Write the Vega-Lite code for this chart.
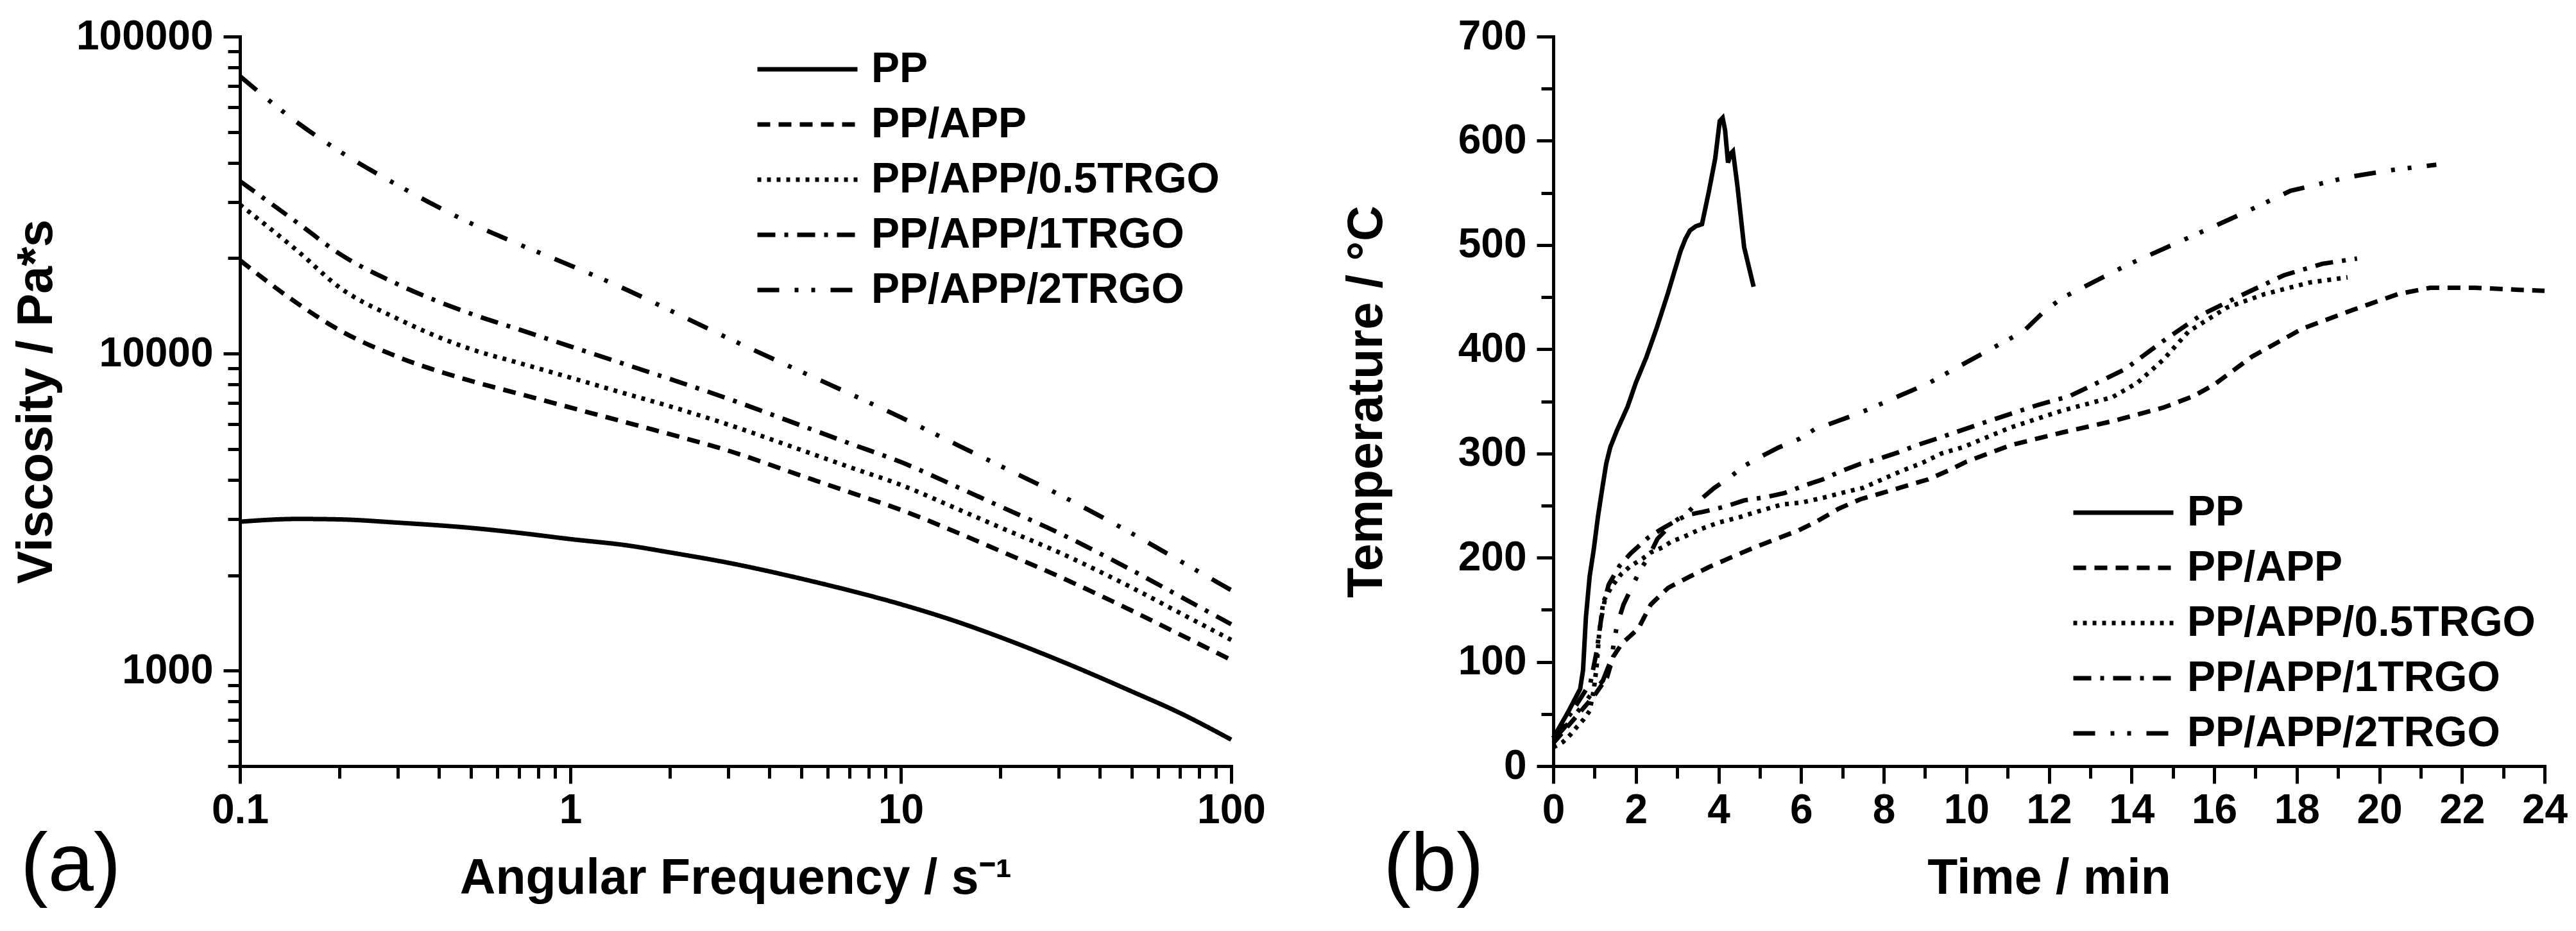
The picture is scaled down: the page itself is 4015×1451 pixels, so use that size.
{
  "$schema": "https://vega.github.io/schema/vega-lite/v6.json",
  "background": "white",
  "padding": {"left": 18, "top": 25, "right": 5, "bottom": 5},
  "config": {
    "font": "Liberation Sans",
    "view": {"stroke": null},
    "axis": {
      "domainColor": "black", "domainWidth": 5, "domainCap": "square",
      "tickColor": "black", "tickWidth": 5, "tickCap": "butt",
      "labelFont": "Liberation Sans", "labelFontSize": 64, "labelFontWeight": "bold", "labelColor": "black", "labelLimit": 1000,
      "titleFont": "Liberation Sans", "titleFontSize": 77, "titleFontWeight": "bold", "titleColor": "black", "titleLimit": 3000,
      "grid": false, "labelOverlap": false, "labelFlush": false, "labelBound": false
    },
    "legend": {
      "orient": "none", "title": null, "padding": 0,
      "labelFont": "Liberation Sans", "labelFontSize": 66, "labelFontWeight": "bold", "labelColor": "black", "labelLimit": 2000,
      "symbolType": "stroke", "symbolSize": 24336, "symbolStrokeWidth": 7, "symbolStrokeColor": "black",
      "clipHeight": 64, "rowPadding": 20, "labelOffset": 18, "symbolOffset": 0
    }
  },
  "datasets": {
    "visc": [
      {"f":0.1,"v":2950,"s":"PP"},{"f":0.15,"v":3010,"s":"PP"},{"f":0.2,"v":3000,"s":"PP"},{"f":0.3,"v":2930,"s":"PP"},{"f":0.5,"v":2820,"s":"PP"},{"f":0.7,"v":2720,"s":"PP"},{"f":1,"v":2600,"s":"PP"},{"f":1.5,"v":2480,"s":"PP"},{"f":2,"v":2360,"s":"PP"},{"f":3,"v":2190,"s":"PP"},{"f":5,"v":1950,"s":"PP"},{"f":7,"v":1790,"s":"PP"},{"f":10,"v":1620,"s":"PP"},{"f":15,"v":1420,"s":"PP"},{"f":20,"v":1275,"s":"PP"},{"f":30,"v":1080,"s":"PP"},{"f":50,"v":860,"s":"PP"},{"f":70,"v":735,"s":"PP"},{"f":100,"v":606,"s":"PP"},
      {"f":0.1,"v":19700,"s":"PP/APP"},{"f":0.15,"v":14350,"s":"PP/APP"},{"f":0.2,"v":11860,"s":"PP/APP"},{"f":0.3,"v":9770,"s":"PP/APP"},{"f":0.5,"v":8200,"s":"PP/APP"},{"f":0.7,"v":7470,"s":"PP/APP"},{"f":1,"v":6760,"s":"PP/APP"},{"f":1.5,"v":6040,"s":"PP/APP"},{"f":2,"v":5570,"s":"PP/APP"},{"f":3,"v":4945,"s":"PP/APP"},{"f":5,"v":4120,"s":"PP/APP"},{"f":7,"v":3655,"s":"PP/APP"},{"f":10,"v":3215,"s":"PP/APP"},{"f":15,"v":2712,"s":"PP/APP"},{"f":20,"v":2385,"s":"PP/APP"},{"f":30,"v":1986,"s":"PP/APP"},{"f":50,"v":1546,"s":"PP/APP"},{"f":70,"v":1300,"s":"PP/APP"},{"f":100,"v":1081,"s":"PP/APP"},
      {"f":0.1,"v":29500,"s":"PP/APP/0.5TRGO"},{"f":0.15,"v":21000,"s":"PP/APP/0.5TRGO"},{"f":0.2,"v":16180,"s":"PP/APP/0.5TRGO"},{"f":0.3,"v":12880,"s":"PP/APP/0.5TRGO"},{"f":0.5,"v":10330,"s":"PP/APP/0.5TRGO"},{"f":0.7,"v":9340,"s":"PP/APP/0.5TRGO"},{"f":1,"v":8400,"s":"PP/APP/0.5TRGO"},{"f":1.5,"v":7430,"s":"PP/APP/0.5TRGO"},{"f":2,"v":6820,"s":"PP/APP/0.5TRGO"},{"f":3,"v":5975,"s":"PP/APP/0.5TRGO"},{"f":5,"v":4965,"s":"PP/APP/0.5TRGO"},{"f":7,"v":4385,"s":"PP/APP/0.5TRGO"},{"f":10,"v":3855,"s":"PP/APP/0.5TRGO"},{"f":15,"v":3220,"s":"PP/APP/0.5TRGO"},{"f":20,"v":2830,"s":"PP/APP/0.5TRGO"},{"f":30,"v":2365,"s":"PP/APP/0.5TRGO"},{"f":50,"v":1828,"s":"PP/APP/0.5TRGO"},{"f":70,"v":1520,"s":"PP/APP/0.5TRGO"},{"f":100,"v":1250,"s":"PP/APP/0.5TRGO"},
      {"f":0.1,"v":35000,"s":"PP/APP/1TRGO"},{"f":0.15,"v":25770,"s":"PP/APP/1TRGO"},{"f":0.2,"v":20660,"s":"PP/APP/1TRGO"},{"f":0.3,"v":16560,"s":"PP/APP/1TRGO"},{"f":0.5,"v":13360,"s":"PP/APP/1TRGO"},{"f":0.7,"v":11910,"s":"PP/APP/1TRGO"},{"f":1,"v":10540,"s":"PP/APP/1TRGO"},{"f":1.5,"v":9180,"s":"PP/APP/1TRGO"},{"f":2,"v":8320,"s":"PP/APP/1TRGO"},{"f":3,"v":7210,"s":"PP/APP/1TRGO"},{"f":5,"v":5930,"s":"PP/APP/1TRGO"},{"f":7,"v":5210,"s":"PP/APP/1TRGO"},{"f":10,"v":4550,"s":"PP/APP/1TRGO"},{"f":15,"v":3775,"s":"PP/APP/1TRGO"},{"f":20,"v":3296,"s":"PP/APP/1TRGO"},{"f":30,"v":2723,"s":"PP/APP/1TRGO"},{"f":50,"v":2075,"s":"PP/APP/1TRGO"},{"f":70,"v":1715,"s":"PP/APP/1TRGO"},{"f":100,"v":1400,"s":"PP/APP/1TRGO"},
      {"f":0.1,"v":75000,"s":"PP/APP/2TRGO"},{"f":0.15,"v":53350,"s":"PP/APP/2TRGO"},{"f":0.2,"v":43500,"s":"PP/APP/2TRGO"},{"f":0.3,"v":33980,"s":"PP/APP/2TRGO"},{"f":0.5,"v":25760,"s":"PP/APP/2TRGO"},{"f":0.7,"v":22100,"s":"PP/APP/2TRGO"},{"f":1,"v":18970,"s":"PP/APP/2TRGO"},{"f":1.5,"v":15800,"s":"PP/APP/2TRGO"},{"f":2,"v":13700,"s":"PP/APP/2TRGO"},{"f":3,"v":11190,"s":"PP/APP/2TRGO"},{"f":5,"v":8770,"s":"PP/APP/2TRGO"},{"f":7,"v":7480,"s":"PP/APP/2TRGO"},{"f":10,"v":6295,"s":"PP/APP/2TRGO"},{"f":15,"v":5120,"s":"PP/APP/2TRGO"},{"f":20,"v":4425,"s":"PP/APP/2TRGO"},{"f":30,"v":3600,"s":"PP/APP/2TRGO"},{"f":50,"v":2710,"s":"PP/APP/2TRGO"},{"f":70,"v":2218,"s":"PP/APP/2TRGO"},{"f":100,"v":1794,"s":"PP/APP/2TRGO"}
    ],
    "temp": [
      {"t":0,"T":27,"s":"PP"},{"t":0.36,"T":52,"s":"PP"},{"t":0.65,"T":74,"s":"PP"},{"t":0.72,"T":92,"s":"PP"},{"t":0.79,"T":143,"s":"PP"},{"t":0.88,"T":182,"s":"PP"},{"t":0.98,"T":208,"s":"PP"},{"t":1.08,"T":239,"s":"PP"},{"t":1.18,"T":265,"s":"PP"},{"t":1.28,"T":290,"s":"PP"},{"t":1.38,"T":306,"s":"PP"},{"t":1.54,"T":322,"s":"PP"},{"t":1.8,"T":345,"s":"PP"},{"t":2.0,"T":368,"s":"PP"},{"t":2.25,"T":392,"s":"PP"},{"t":2.5,"T":420,"s":"PP"},{"t":2.77,"T":453,"s":"PP"},{"t":3.08,"T":494,"s":"PP"},{"t":3.2,"T":506,"s":"PP"},{"t":3.31,"T":514,"s":"PP"},{"t":3.45,"T":518,"s":"PP"},{"t":3.6,"T":520,"s":"PP"},{"t":3.77,"T":552,"s":"PP"},{"t":3.92,"T":583,"s":"PP"},{"t":4.03,"T":619,"s":"PP"},{"t":4.1,"T":622,"s":"PP"},{"t":4.16,"T":610,"s":"PP"},{"t":4.23,"T":579,"s":"PP"},{"t":4.3,"T":588,"s":"PP"},{"t":4.35,"T":590,"s":"PP"},{"t":4.46,"T":556,"s":"PP"},{"t":4.62,"T":498,"s":"PP"},{"t":4.85,"T":460,"s":"PP"},
      {"t":0,"T":22,"s":"PP/APP"},{"t":0.5,"T":45,"s":"PP/APP"},{"t":1.0,"T":68,"s":"PP/APP"},{"t":1.3,"T":85,"s":"PP/APP"},{"t":1.45,"T":105,"s":"PP/APP"},{"t":1.67,"T":118,"s":"PP/APP"},{"t":2.06,"T":132,"s":"PP/APP"},{"t":2.36,"T":155,"s":"PP/APP"},{"t":2.78,"T":171,"s":"PP/APP"},{"t":3.31,"T":182,"s":"PP/APP"},{"t":3.77,"T":191,"s":"PP/APP"},{"t":4.29,"T":200,"s":"PP/APP"},{"t":4.88,"T":210,"s":"PP/APP"},{"t":5.4,"T":218,"s":"PP/APP"},{"t":5.93,"T":226,"s":"PP/APP"},{"t":6.39,"T":235,"s":"PP/APP"},{"t":6.91,"T":247,"s":"PP/APP"},{"t":7.43,"T":256,"s":"PP/APP"},{"t":7.96,"T":262,"s":"PP/APP"},{"t":8.55,"T":269,"s":"PP/APP"},{"t":9.07,"T":275,"s":"PP/APP"},{"t":9.59,"T":284,"s":"PP/APP"},{"t":10.0,"T":292,"s":"PP/APP"},{"t":11.08,"T":308,"s":"PP/APP"},{"t":12.31,"T":320,"s":"PP/APP"},{"t":13.54,"T":331,"s":"PP/APP"},{"t":14.77,"T":344,"s":"PP/APP"},{"t":15.5,"T":355,"s":"PP/APP"},{"t":16.0,"T":366,"s":"PP/APP"},{"t":16.92,"T":393,"s":"PP/APP"},{"t":18.15,"T":420,"s":"PP/APP"},{"t":19.38,"T":438,"s":"PP/APP"},{"t":20.46,"T":453,"s":"PP/APP"},{"t":21.23,"T":459,"s":"PP/APP"},{"t":22.31,"T":459,"s":"PP/APP"},{"t":23.38,"T":457,"s":"PP/APP"},{"t":24,"T":456,"s":"PP/APP"},
      {"t":0,"T":18,"s":"PP/APP/0.5TRGO"},{"t":0.23,"T":23,"s":"PP/APP/0.5TRGO"},{"t":0.41,"T":30,"s":"PP/APP/0.5TRGO"},{"t":0.58,"T":38,"s":"PP/APP/0.5TRGO"},{"t":0.74,"T":45,"s":"PP/APP/0.5TRGO"},{"t":0.88,"T":53,"s":"PP/APP/0.5TRGO"},{"t":0.98,"T":73,"s":"PP/APP/0.5TRGO"},{"t":1.05,"T":96,"s":"PP/APP/0.5TRGO"},{"t":1.11,"T":127,"s":"PP/APP/0.5TRGO"},{"t":1.21,"T":158,"s":"PP/APP/0.5TRGO"},{"t":1.41,"T":172,"s":"PP/APP/0.5TRGO"},{"t":1.64,"T":184,"s":"PP/APP/0.5TRGO"},{"t":1.87,"T":192,"s":"PP/APP/0.5TRGO"},{"t":2.16,"T":199,"s":"PP/APP/0.5TRGO"},{"t":2.36,"T":205,"s":"PP/APP/0.5TRGO"},{"t":2.65,"T":210,"s":"PP/APP/0.5TRGO"},{"t":2.88,"T":216,"s":"PP/APP/0.5TRGO"},{"t":3.11,"T":219,"s":"PP/APP/0.5TRGO"},{"t":3.54,"T":227,"s":"PP/APP/0.5TRGO"},{"t":4.03,"T":234,"s":"PP/APP/0.5TRGO"},{"t":4.52,"T":239,"s":"PP/APP/0.5TRGO"},{"t":5.01,"T":245,"s":"PP/APP/0.5TRGO"},{"t":5.53,"T":251,"s":"PP/APP/0.5TRGO"},{"t":6.03,"T":253,"s":"PP/APP/0.5TRGO"},{"t":6.48,"T":257,"s":"PP/APP/0.5TRGO"},{"t":6.97,"T":262,"s":"PP/APP/0.5TRGO"},{"t":7.5,"T":267,"s":"PP/APP/0.5TRGO"},{"t":7.96,"T":275,"s":"PP/APP/0.5TRGO"},{"t":8.42,"T":283,"s":"PP/APP/0.5TRGO"},{"t":8.94,"T":291,"s":"PP/APP/0.5TRGO"},{"t":9.4,"T":300,"s":"PP/APP/0.5TRGO"},{"t":9.92,"T":306,"s":"PP/APP/0.5TRGO"},{"t":11.08,"T":325,"s":"PP/APP/0.5TRGO"},{"t":12.31,"T":341,"s":"PP/APP/0.5TRGO"},{"t":13.54,"T":354,"s":"PP/APP/0.5TRGO"},{"t":14.15,"T":368,"s":"PP/APP/0.5TRGO"},{"t":14.77,"T":390,"s":"PP/APP/0.5TRGO"},{"t":15.38,"T":417,"s":"PP/APP/0.5TRGO"},{"t":16.31,"T":440,"s":"PP/APP/0.5TRGO"},{"t":17.23,"T":453,"s":"PP/APP/0.5TRGO"},{"t":18.31,"T":464,"s":"PP/APP/0.5TRGO"},{"t":19.23,"T":469,"s":"PP/APP/0.5TRGO"},
      {"t":0,"T":27,"s":"PP/APP/1TRGO"},{"t":0.45,"T":52,"s":"PP/APP/1TRGO"},{"t":0.9,"T":80,"s":"PP/APP/1TRGO"},{"t":1.05,"T":110,"s":"PP/APP/1TRGO"},{"t":1.15,"T":139,"s":"PP/APP/1TRGO"},{"t":1.25,"T":160,"s":"PP/APP/1TRGO"},{"t":1.34,"T":174,"s":"PP/APP/1TRGO"},{"t":1.6,"T":192,"s":"PP/APP/1TRGO"},{"t":1.87,"T":204,"s":"PP/APP/1TRGO"},{"t":2.29,"T":219,"s":"PP/APP/1TRGO"},{"t":2.6,"T":227,"s":"PP/APP/1TRGO"},{"t":2.91,"T":234,"s":"PP/APP/1TRGO"},{"t":3.24,"T":241,"s":"PP/APP/1TRGO"},{"t":3.63,"T":244,"s":"PP/APP/1TRGO"},{"t":4.16,"T":249,"s":"PP/APP/1TRGO"},{"t":4.62,"T":255,"s":"PP/APP/1TRGO"},{"t":5.14,"T":258,"s":"PP/APP/1TRGO"},{"t":5.6,"T":262,"s":"PP/APP/1TRGO"},{"t":6.06,"T":269,"s":"PP/APP/1TRGO"},{"t":6.52,"T":275,"s":"PP/APP/1TRGO"},{"t":6.97,"T":283,"s":"PP/APP/1TRGO"},{"t":7.43,"T":290,"s":"PP/APP/1TRGO"},{"t":7.89,"T":295,"s":"PP/APP/1TRGO"},{"t":8.35,"T":301,"s":"PP/APP/1TRGO"},{"t":8.81,"T":308,"s":"PP/APP/1TRGO"},{"t":9.27,"T":314,"s":"PP/APP/1TRGO"},{"t":9.79,"T":321,"s":"PP/APP/1TRGO"},{"t":10.46,"T":330,"s":"PP/APP/1TRGO"},{"t":11.69,"T":346,"s":"PP/APP/1TRGO"},{"t":12.5,"T":355,"s":"PP/APP/1TRGO"},{"t":13.08,"T":366,"s":"PP/APP/1TRGO"},{"t":13.85,"T":381,"s":"PP/APP/1TRGO"},{"t":14.77,"T":408,"s":"PP/APP/1TRGO"},{"t":15.69,"T":433,"s":"PP/APP/1TRGO"},{"t":16.62,"T":451,"s":"PP/APP/1TRGO"},{"t":17.69,"T":471,"s":"PP/APP/1TRGO"},{"t":18.62,"T":482,"s":"PP/APP/1TRGO"},{"t":19.46,"T":487,"s":"PP/APP/1TRGO"},
      {"t":0,"T":25,"s":"PP/APP/2TRGO"},{"t":0.45,"T":45,"s":"PP/APP/2TRGO"},{"t":0.9,"T":68,"s":"PP/APP/2TRGO"},{"t":1.2,"T":82,"s":"PP/APP/2TRGO"},{"t":1.4,"T":102,"s":"PP/APP/2TRGO"},{"t":1.54,"T":135,"s":"PP/APP/2TRGO"},{"t":1.7,"T":155,"s":"PP/APP/2TRGO"},{"t":1.93,"T":174,"s":"PP/APP/2TRGO"},{"t":2.1,"T":188,"s":"PP/APP/2TRGO"},{"t":2.3,"T":200,"s":"PP/APP/2TRGO"},{"t":2.52,"T":218,"s":"PP/APP/2TRGO"},{"t":2.91,"T":234,"s":"PP/APP/2TRGO"},{"t":3.27,"T":244,"s":"PP/APP/2TRGO"},{"t":3.6,"T":257,"s":"PP/APP/2TRGO"},{"t":3.9,"T":267,"s":"PP/APP/2TRGO"},{"t":4.3,"T":278,"s":"PP/APP/2TRGO"},{"t":4.62,"T":288,"s":"PP/APP/2TRGO"},{"t":5.08,"T":298,"s":"PP/APP/2TRGO"},{"t":5.47,"T":306,"s":"PP/APP/2TRGO"},{"t":5.96,"T":314,"s":"PP/APP/2TRGO"},{"t":6.32,"T":323,"s":"PP/APP/2TRGO"},{"t":6.81,"T":330,"s":"PP/APP/2TRGO"},{"t":7.43,"T":339,"s":"PP/APP/2TRGO"},{"t":8.02,"T":349,"s":"PP/APP/2TRGO"},{"t":8.42,"T":356,"s":"PP/APP/2TRGO"},{"t":9.07,"T":367,"s":"PP/APP/2TRGO"},{"t":9.66,"T":380,"s":"PP/APP/2TRGO"},{"t":10.77,"T":404,"s":"PP/APP/2TRGO"},{"t":11.38,"T":417,"s":"PP/APP/2TRGO"},{"t":11.85,"T":435,"s":"PP/APP/2TRGO"},{"t":12.31,"T":449,"s":"PP/APP/2TRGO"},{"t":13.85,"T":480,"s":"PP/APP/2TRGO"},{"t":15.38,"T":507,"s":"PP/APP/2TRGO"},{"t":16.62,"T":529,"s":"PP/APP/2TRGO"},{"t":17.85,"T":552,"s":"PP/APP/2TRGO"},{"t":19.23,"T":565,"s":"PP/APP/2TRGO"},{"t":20.31,"T":572,"s":"PP/APP/2TRGO"},{"t":21.38,"T":577,"s":"PP/APP/2TRGO"}
    ]
  },
  "bounds": "flush",
  "spacing": 502,
  "resolve": {"scale": {"strokeDash": "independent"}, "legend": {"strokeDash": "independent"}},
  "hconcat": [
    {
      "width": 1545, "height": 1137,
      "title": {"text": "(a)", "orient": "bottom", "anchor": "start", "frame": "bounds", "font": "Liberation Sans", "fontSize": 128, "fontWeight": "normal", "color": "black", "offset": -120, "dx": 14},
      "data": {"name": "visc"},
      "mark": {"type": "line", "strokeWidth": 7, "interpolate": "monotone", "color": "black", "strokeCap": "butt"},
      "encoding": {
        "x": {"field": "f", "type": "quantitative",
          "scale": {"type": "log", "domain": [0.1, 100], "nice": false},
          "axis": {"title": "Angular Frequency / s⁻¹", "titlePadding": 36, "labelPadding": 10,
            "values": [0.1,0.2,0.3,0.4,0.5,0.6,0.7,0.8,0.9,1,2,3,4,5,6,7,8,9,10,20,30,40,50,60,70,80,90,100],
            "labelExpr": "(datum.value == 0.1 || datum.value == 1 || datum.value == 10 || datum.value == 100) ? '' + datum.value : ''",
            "tickSize": {"condition": {"test": "datum.value == 0.1 || datum.value == 1 || datum.value == 10 || datum.value == 100", "value": 27}, "value": 19}}},
        "y": {"field": "v", "type": "quantitative",
          "scale": {"type": "log", "domain": [500, 100000], "nice": false},
          "axis": {"title": "Viscosity / Pa*s", "titlePadding": 78, "labelPadding": 16,
            "values": [500,600,700,800,900,1000,2000,3000,4000,5000,6000,7000,8000,9000,10000,20000,30000,40000,50000,60000,70000,80000,90000,100000],
            "labelExpr": "(datum.value == 1000 || datum.value == 10000 || datum.value == 100000) ? '' + datum.value : ''",
            "tickSize": {"condition": {"test": "datum.value == 1000 || datum.value == 10000 || datum.value == 100000", "value": 26}, "value": 19}}},
        "strokeDash": {"field": "s", "type": "nominal",
          "scale": {"domain": ["PP","PP/APP","PP/APP/0.5TRGO","PP/APP/1TRGO","PP/APP/2TRGO"],
                    "range": [[1,0],[20,13],[6,9],[28,14,6,14],[34,24,6,20,6,24]]},
          "legend": {"orient": "none", "legendX": 803, "legendY": 19}}
      }
    },
    {
      "width": 1545, "height": 1137,
      "title": {"text": "(b)", "orient": "bottom", "anchor": "start", "frame": "bounds", "font": "Liberation Sans", "fontSize": 128, "fontWeight": "normal", "color": "black", "offset": -120, "dx": 65},
      "data": {"name": "temp"},
      "mark": {"type": "line", "strokeWidth": 7, "interpolate": "linear", "color": "black", "strokeCap": "butt"},
      "encoding": {
        "x": {"field": "t", "type": "quantitative",
          "scale": {"domain": [0, 24], "nice": false},
          "axis": {"title": "Time / min", "titlePadding": 36, "labelPadding": 10,
            "values": [0,1,2,3,4,5,6,7,8,9,10,11,12,13,14,15,16,17,18,19,20,21,22,23,24],
            "labelExpr": "datum.value % 2 == 0 ? '' + datum.value : ''",
            "tickSize": {"condition": {"test": "datum.value % 2 == 0", "value": 27}, "value": 19}}},
        "y": {"field": "T", "type": "quantitative",
          "scale": {"domain": [0, 700], "nice": false},
          "axis": {"title": "Temperature / °C", "titlePadding": 103, "labelPadding": 16,
            "values": [0,50,100,150,200,250,300,350,400,450,500,550,600,650,700],
            "labelExpr": "datum.value % 100 == 0 ? '' + datum.value : ''",
            "tickSize": {"condition": {"test": "datum.value % 100 == 0", "value": 26}, "value": 19}}},
        "strokeDash": {"field": "s", "type": "nominal",
          "scale": {"domain": ["PP","PP/APP","PP/APP/0.5TRGO","PP/APP/1TRGO","PP/APP/2TRGO"],
                    "range": [[1,0],[20,13],[6,9],[28,14,6,14],[34,24,6,20,6,24]]},
          "legend": {"orient": "none", "legendX": 807, "legendY": 710}}
      }
    }
  ]
}
